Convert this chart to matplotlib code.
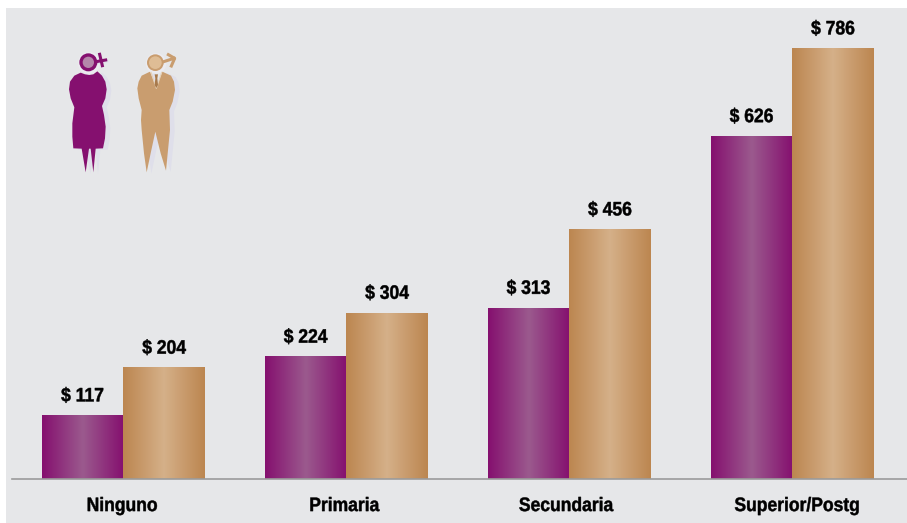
import numpy as np
import matplotlib.pyplot as plt
from matplotlib.colors import LinearSegmentedColormap
from matplotlib.patches import Circle, Polygon, Rectangle
from matplotlib.patheffects import AbstractPathEffect
from matplotlib.transforms import Affine2D

categories = ['Ninguno', 'Primaria', 'Secundaria', 'Superior/Postg']
mujeres = [117, 224, 313, 626]
hombres = [204, 304, 456, 786]

plt.rcParams['font.family'] = ['Liberation Sans']

W, H = 907, 523
BG = '#e6e7e9'
cm_purple = LinearSegmentedColormap.from_list('p', ['#85106f', '#9b5a8e', '#85106f'])
cm_tan = LinearSegmentedColormap.from_list('t', ['#bc8650', '#d5b089', '#bc8650'])


class Narrow(AbstractPathEffect):
    # squeeze text sideways about its centre, no narrow font is installed
    def __init__(self, k):
        super().__init__()
        self.k = k

    def draw_path(self, renderer, gc, tpath, affine, rgbFace=None):
        box = tpath.transformed(affine).get_extents()
        cx = (box.x0 + box.x1)/2
        t = affine + Affine2D().translate(-cx, 0).scale(self.k, 1).translate(cx, 0)
        gc0 = renderer.new_gc()
        gc0.copy_properties(gc)
        gc0.set_linewidth(0.35)
        gc0.set_foreground(rgbFace)
        renderer.draw_path(gc0, tpath, t, rgbFace)
        gc0.restore()


fig = plt.figure(figsize=(W/100, H/100), dpi=100, facecolor='white')
fig.patches.append(Rectangle((6/W, 0), (W-6)/W, (H-8)/H, transform=fig.transFigure,
                             facecolor=BG, edgecolor='none', zorder=-5))

# axes placed in pixels: baseline at y=479.3, first group centre at x=123.3
ax = fig.add_axes([11.8/W, (H-479.3)/H, 895.2/W, 471.3/H])
ax.patch.set_alpha(0)
scale = 1/0.5486
xlim = (-0.5, -0.5 + 895.2/223)
ylim = (0, 471.3*scale)


def gradient_bars(xs, vals, cmap):
    grad = np.linspace(0, 1, 128).reshape(1, -1)
    bars = ax.bar(xs, vals, width=81.5/223, color='none', edgecolor='none', zorder=2)
    for b in bars:
        im = ax.imshow(grad, cmap=cmap, aspect='auto', zorder=2,
                       extent=[b.get_x(), b.get_x()+b.get_width(), 0, b.get_height()])
        im.set_clip_path(b)
    return bars


x = np.arange(len(categories))
w = 81.5/223
gradient_bars(x-w/2, mujeres, cm_purple)
gradient_bars(x+w/2, hombres, cm_tan)

narrow = [Narrow(0.9)]
for xs, vals in ((x-w/2, mujeres), (x+w/2, hombres)):
    for xi, v in zip(xs, vals):
        ax.annotate('$ %d' % v, (xi, v), xytext=(0, 7), textcoords='offset points',
                    ha='center', va='bottom', fontsize=14, fontweight='bold',
                    color='#000000', parse_math=False, path_effects=narrow)

ax.set_xlim(xlim)
ax.set_ylim(ylim)
# the labels are not quite centred under the groups in the original
ax.set_xticks(x + np.array([-1, -2, -3, 5])/223)
ax.set_xticklabels(categories, fontsize=14, fontweight='bold', color='#000000', path_effects=narrow)
ax.tick_params(axis='x', length=0, pad=13.5)
ax.set_yticks([])
for s in ['top', 'left', 'right']:
    ax.spines[s].set_visible(False)
ax.spines['bottom'].set_color('#9b9b9b')
ax.spines['bottom'].set_linewidth(1.2)

# gender figures, coordinates are in a 480x480 box over pixels (40,30)-(200,190)
ic = fig.add_axes([40/W, (H-190)/H, 160/W, 160/H])
ic.set_xlim(0, 480)
ic.set_ylim(480, 0)
ic.axis('off')

woman = [(122, 128), (135, 133), (148, 135), (160, 133), (172, 124), (186, 137), (196, 155),
         (200, 178), (196, 205), (186, 228), (192, 255), (197, 290), (195, 325), (189, 355),
         (167, 356), (160, 427), (152, 356), (147, 356), (137, 427), (125, 356), (100, 355),
         (97, 320), (97, 280), (103, 232), (92, 205), (87, 178), (90, 155), (103, 137)]
man = [(330, 125), (349, 172), (367, 125), (393, 137), (402, 155), (405, 180), (398, 215),
       (388, 240), (390, 300), (386, 340), (378, 422), (362, 370), (346, 305), (333, 365),
       (320, 427), (312, 370), (305, 300), (303, 270), (305, 240), (296, 205), (292, 175),
       (296, 155), (305, 137)]


def shadow(pts):
    return [(a+14, b+4) for a, b in pts]


ic.add_patch(Polygon(shadow(woman), facecolor='#dfdfea', edgecolor='none'))
ic.add_patch(Polygon(shadow(man), facecolor='#dfdfea', edgecolor='none'))
ic.add_patch(Polygon(woman, facecolor='#85106f', edgecolor='none'))
ic.add_patch(Polygon(man, facecolor='#c99d6f', edgecolor='none'))

# woman's symbol
ic.add_patch(Circle((147, 99), 33, facecolor='#ebebf0', edgecolor='none', zorder=3))
ic.plot([172, 201], [98, 93], color='#dfdfea', lw=2.2, zorder=3)
ic.plot([168, 197], [95, 90], color='#85106f', lw=2.2, zorder=4)
ic.plot([179, 187], [73, 107], color='#85106f', lw=2.2, zorder=4)
ic.add_patch(Circle((145, 97), 27, facecolor='#85106f', edgecolor='none', zorder=5))
ic.add_patch(Circle((145, 97), 17, facecolor='#b487aa', edgecolor='none', zorder=6))

# man's symbol
ic.add_patch(Circle((348, 100), 31, facecolor='#ebebf0', edgecolor='none', zorder=3))
ic.plot([368, 402], [96, 85], color='#c99d6f', lw=2.2, zorder=4)
ic.plot([385, 404, 394], [74, 85, 108], color='#c99d6f', lw=2.2, zorder=4)
ic.add_patch(Circle((346, 98), 25, facecolor='#c99d6f', edgecolor='none', zorder=5))
ic.add_patch(Circle((346, 98), 19, facecolor='#dfbd95', edgecolor='none', zorder=6))

# tie
ic.add_patch(Polygon([(344, 133), (354, 133), (352, 145), (354, 165), (349, 174), (344, 165), (346, 145)],
                     facecolor='#a87a4c', edgecolor='none', zorder=5))
ic.plot([333, 349, 365], [127, 175, 127], color='#e6d2b8', lw=0.8, zorder=4)

fig.savefig('out.png', dpi=100)
